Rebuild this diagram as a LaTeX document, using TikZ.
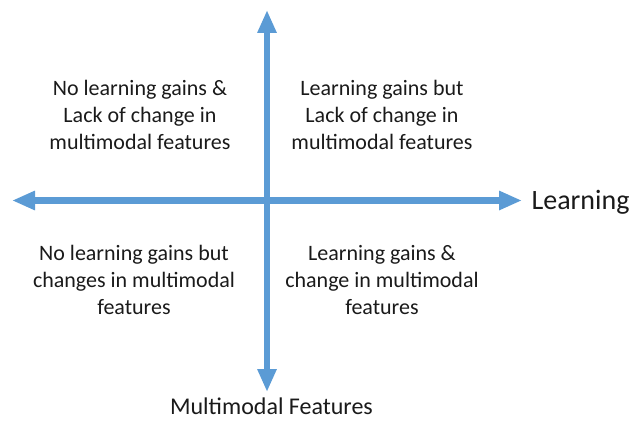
\documentclass[tikz,border=0pt]{standalone}
\usepackage{fontspec}
\setmainfont{Carlito}
\usetikzlibrary{arrows.meta}
\definecolor{axisblue}{HTML}{5B9BD5}
\definecolor{textgray}{HTML}{1A1A1A}
\tikzset{
  axis/.style={draw=axisblue, line width=6.5pt,
    {Triangle[length=23pt,width=18pt]}-{Triangle[length=23pt,width=18pt]}},
  quadrant/.style={align=center, text=textgray,
    font=\fontsize{22}{26.7}\selectfont},
  axislabel/.style={text=textgray, anchor=base, inner sep=0pt}
}
\begin{document}
\begin{tikzpicture}[x=1pt,y=1pt]
  \useasboundingbox (0,0) rectangle (631,421);
  % axis end points
  \coordinate (west) at (12,220.5);
  \coordinate (east) at (522,220.5);
  \coordinate (north) at (267,411);
  \coordinate (south) at (267,29);
  % axes
  \draw[axis] (west) -- (east);
  \draw[axis] (south) -- (north);
  % axis labels
  \node[axislabel, font=\fontsize{28}{32}\selectfont] (learning) at (580.5,212) {Learning};
  \node[axislabel, font=\fontsize{24}{28}\selectfont] (features) at (271.5,7) {Multimodal Features};
  % quadrant descriptions
  \node[quadrant] (tl) at (140,306) {No learning gains \&\\Lack of change in\\multimodal features};
  \node[quadrant] (tr) at (382,306) {Learning gains but\\Lack of change in\\multimodal features};
  \node[quadrant] (bl) at (134,141) {No learning gains but\\changes in multimodal\\features};
  \node[quadrant] (br) at (382,141) {Learning gains \&\\change in multimodal\\features};
\end{tikzpicture}
\end{document}
